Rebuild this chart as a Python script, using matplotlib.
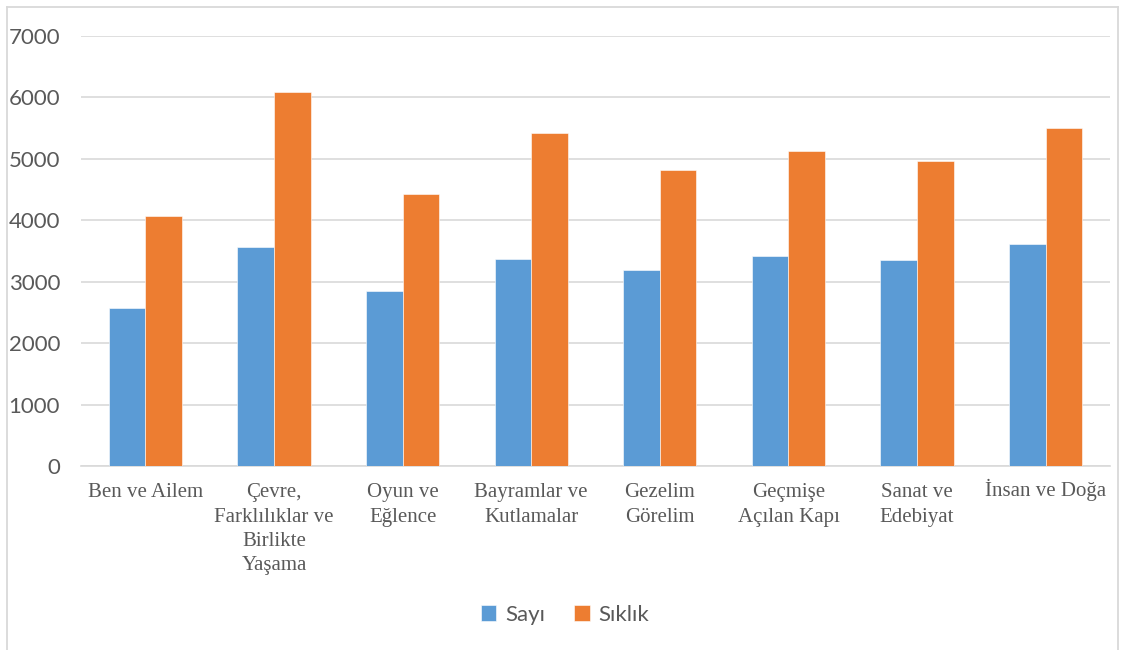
import numpy as np
import matplotlib.pyplot as plt
from matplotlib.lines import Line2D
from matplotlib.transforms import ScaledTranslation

# Veriler
temalar = ['Ben ve Ailem', 'Çevre,\nFarklılıklar ve\nBirlikte\nYaşama', 'Oyun ve\nEğlence',
           'Bayramlar ve\nKutlamalar', 'Gezelim\nGörelim', 'Geçmişe\nAçılan Kapı',
           'Sanat ve\nEdebiyat', 'İnsan ve Doğa']
sayi = [2575, 3560, 2855, 3370, 3185, 3415, 3350, 3610]
siklik = [4065, 6085, 4435, 5415, 4815, 5120, 4965, 5495]

mavi = '#5B9BD5'
turuncu = '#ED7D31'
gri_yazi = '#595959'

fig = plt.figure(figsize=(11.23, 6.5), dpi=100)
ax = fig.add_axes([81 / 1123, 1 - 466 / 650, (1110 - 81) / 1123, (466 - 36) / 650])

x = np.arange(len(temalar))
w = 0.285
ax.bar(x - w / 2, sayi, w, color=mavi, label='Sayı', edgecolor='white', linewidth=0.4, zorder=3)
ax.bar(x + w / 2, siklik, w, color=turuncu, label='Sıklık', edgecolor='white', linewidth=0.4, zorder=3)

ax.set_xlim(-0.5, len(temalar) - 0.5)
ax.set_ylim(0, 7000)
ax.set_yticks(range(0, 7001, 1000))
ax.grid(axis='y', color='#D9D9D9', linewidth=1.2, zorder=0)

for s in ['top', 'right', 'left']:
    ax.spines[s].set_visible(False)
ax.spines['bottom'].set_color('#D9D9D9')
ax.spines['bottom'].set_linewidth(1.2)

ax.set_xticks(x)
ax.set_xticklabels(temalar, family='Liberation Serif', fontsize=15, color=gri_yazi, linespacing=1.38)
ax.tick_params(axis='x', length=0, pad=12.5)
ax.tick_params(axis='y', length=0, pad=15, labelsize=16, labelcolor=gri_yazi)
for t in ax.get_yticklabels():
    t.set_family('Lato')

# İ harfinin noktası etiketi aşağı itiyor, biraz yukarı al
son = ax.get_xticklabels()[-1]
son.set_transform(son.get_transform() + ScaledTranslation(0, 3 / 72, fig.dpi_scale_trans))

leg = fig.legend(loc='center', bbox_to_anchor=(565 / 1123, 1 - 615 / 650), ncol=2, frameon=False,
                 prop={'family': 'Lato', 'size': 16}, handlelength=0.7, handleheight=0.7,
                 handletextpad=0.4, columnspacing=1.3)
for t in leg.get_texts():
    t.set_color(gri_yazi)

# Çerçeve
kenar = '#D9D9D9'
fig.add_artist(Line2D([6.5 / 1123, 6.5 / 1123], [0, 1 - 6.5 / 650], color=kenar, lw=1.3))
fig.add_artist(Line2D([6.5 / 1123, 1118 / 1123], [1 - 6.5 / 650, 1 - 6.5 / 650], color=kenar, lw=1.3))
fig.add_artist(Line2D([1118 / 1123, 1118 / 1123], [0, 1 - 6.5 / 650], color=kenar, lw=1.3))

fig.savefig('out.png', dpi=100)
